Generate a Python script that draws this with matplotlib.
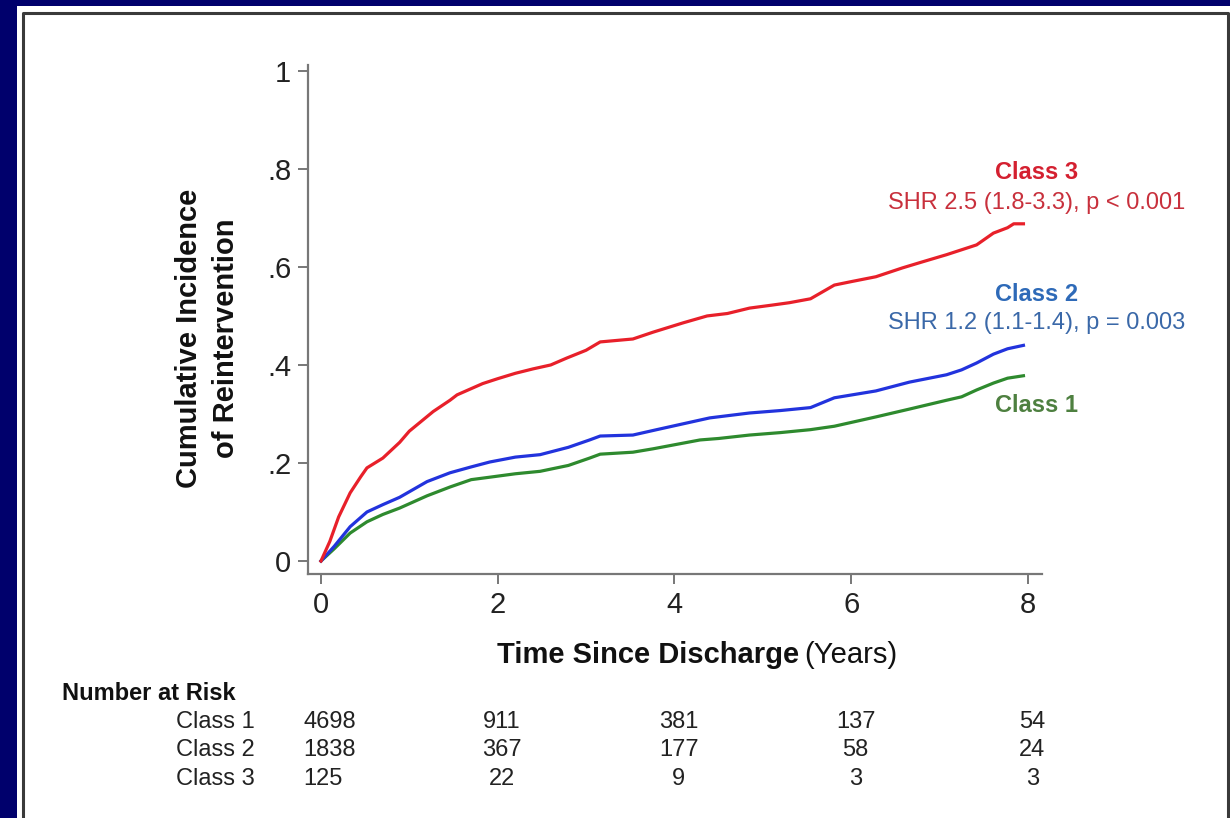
import matplotlib
matplotlib.use("Agg")
import matplotlib.pyplot as plt
from matplotlib.patches import Rectangle
from matplotlib.lines import Line2D
import matplotlib.transforms as mtransforms

plt.rcParams['font.family'] = ['Liberation Sans', 'DejaVu Sans']

# Cumulative incidence of reintervention by class (years since discharge)
t_class3 = [0, 0.1, 0.2, 0.33, 0.45, 0.52, 0.7, 0.89, 1.0, 1.27, 1.46, 1.54, 1.83, 2.0, 2.2,
            2.4, 2.6, 2.78, 3.0, 3.16, 3.53, 3.76, 4.1, 4.37, 4.6, 4.85, 5.1, 5.3, 5.54, 5.81,
            6.0, 6.28, 6.58, 6.8, 7.08, 7.25, 7.42, 7.61, 7.77, 7.84, 7.95]
ci_class3 = [0, 0.04, 0.09, 0.139, 0.172, 0.19, 0.21, 0.242, 0.265, 0.305, 0.328, 0.339, 0.362,
             0.372, 0.383, 0.392, 0.40, 0.414, 0.43, 0.447, 0.453, 0.467, 0.486, 0.50, 0.505,
             0.516, 0.522, 0.527, 0.535, 0.563, 0.57, 0.58, 0.598, 0.61, 0.625, 0.635, 0.645,
             0.669, 0.68, 0.688, 0.688]

t_class2 = [0, 0.15, 0.33, 0.52, 0.7, 0.89, 1.2, 1.46, 1.7, 1.91, 2.2, 2.48, 2.8, 3.04, 3.16,
            3.53, 3.8, 4.1, 4.4, 4.85, 5.2, 5.54, 5.81, 6.28, 6.66, 7.08, 7.25, 7.42, 7.61, 7.77,
            7.95]
ci_class2 = [0, 0.03, 0.07, 0.10, 0.115, 0.13, 0.162, 0.18, 0.192, 0.202, 0.212, 0.217, 0.232,
             0.247, 0.255, 0.257, 0.268, 0.28, 0.292, 0.302, 0.307, 0.313, 0.333, 0.347, 0.365,
             0.38, 0.39, 0.404, 0.422, 0.433, 0.44]

t_class1 = [0, 0.15, 0.33, 0.52, 0.7, 0.89, 1.2, 1.46, 1.7, 1.91, 2.2, 2.48, 2.8, 3.04, 3.16,
            3.53, 3.76, 4.29, 4.5, 4.85, 5.2, 5.54, 5.81, 6.28, 6.66, 7.08, 7.25, 7.42, 7.61,
            7.77, 7.95]
ci_class1 = [0, 0.025, 0.057, 0.08, 0.095, 0.108, 0.133, 0.151, 0.166, 0.171, 0.178, 0.183,
             0.195, 0.21, 0.218, 0.222, 0.229, 0.247, 0.25, 0.257, 0.262, 0.268, 0.275, 0.294,
             0.31, 0.328, 0.335, 0.349, 0.363, 0.373, 0.378]

x_ticks = [0, 2, 4, 6, 8]
y_ticks = [0, 0.2, 0.4, 0.6, 0.8, 1.0]
y_tick_labels = ["0", ".2", ".4", ".6", ".8", "1"]

risk_classes = ["Class 1", "Class 2", "Class 3"]
risk_times = [0, 2, 4, 6, 8]
risk_class1 = [4698, 911, 381, 137, 54]
risk_class2 = [1838, 367, 177, 58, 24]
risk_class3 = [125, 22, 9, 3, 3]

W, H = 1230, 818
fig = plt.figure(figsize=(W / 100, H / 100), dpi=100, facecolor="#00006C")


def fx(px):
    return px / W


def fy(py):
    return 1 - py / H


# white slide panel and its thin dark frame, kept beneath the axes
fig.patches.append(Rectangle((fx(17), 0), 1 - fx(17), fy(6), transform=fig.transFigure,
                             facecolor="white", edgecolor="none", zorder=-5))
fig.lines.append(Line2D([fx(23), fx(23), fx(1228), fx(1228)], [0, fy(13), fy(13), 0],
                        transform=fig.transFigure, color="#3a3a3a", lw=2.2, zorder=-4))

ax = fig.add_axes([fx(308), fy(574), fx(1042) - fx(308), fy(65) - fy(574)])
ax.set_facecolor("none")
ax.set_xlim(-0.147, 8.16)
ax.set_ylim(-0.0265, 1.012)

col3, col2, col1 = "#E8202A", "#2233DD", "#2E8A2E"
ax.plot(t_class1, ci_class1, color=col1, lw=2.3, zorder=3, solid_joinstyle="round")
ax.plot(t_class2, ci_class2, color=col2, lw=2.3, zorder=4, solid_joinstyle="round")
ax.plot(t_class3, ci_class3, color=col3, lw=2.3, zorder=5, solid_joinstyle="round")

for side in ("top", "right"):
    ax.spines[side].set_visible(False)
for side in ("left", "bottom"):
    ax.spines[side].set_color("#777777")
    ax.spines[side].set_linewidth(1.6)

ax.set_xticks(x_ticks)
ax.set_xticklabels([str(v) for v in x_ticks])
ax.set_yticks(y_ticks)
ax.set_yticklabels(y_tick_labels)
ax.tick_params(axis="both", direction="out", length=7, width=1.4, color="#777777",
               labelsize=21, labelcolor="#222222", pad=5)

# class annotations
lab_x = 8.1
ann_size = 17
ax.text(lab_x, 0.792, "Class 3", color="#D42030", fontsize=ann_size, fontweight="bold",
        ha="center", va="center", clip_on=False)
ax.text(lab_x, 0.731, "SHR 2.5 (1.8-3.3), p < 0.001", color="#C8303C", fontsize=ann_size,
        ha="center", va="center", clip_on=False)
ax.text(lab_x, 0.543, "Class 2", color="#2E6AB8", fontsize=ann_size, fontweight="bold",
        ha="center", va="center", clip_on=False)
ax.text(lab_x, 0.486, "SHR 1.2 (1.1-1.4), p = 0.003", color="#3A68A8", fontsize=ann_size,
        ha="center", va="center", clip_on=False)
ax.text(lab_x, 0.318, "Class 1", color="#4E8040", fontsize=ann_size, fontweight="bold",
        ha="center", va="center", clip_on=False)

# y-axis title (two lines)
fig.text(fx(189), fy(338), "Cumulative Incidence", rotation=90, fontsize=21,
         fontweight="bold", ha="center", va="center", color="#111111")
fig.text(fx(226), fy(338), "of Reintervention", rotation=90, fontsize=21,
         fontweight="bold", ha="center", va="center", color="#111111")

# x-axis title: bold part plus regular units
t1 = fig.text(fx(497), fy(655), "Time Since Discharge", fontsize=21, fontweight="bold",
              ha="left", va="center", color="#111111")
fig.canvas.draw()
bb = t1.get_window_extent()
fig.text(bb.x1 / W + 0.004, fy(655), "(Years)", fontsize=21, ha="left", va="center",
         color="#111111")

# number-at-risk table
tab_size = 17
fig.text(fx(62), fy(694), "Number at Risk", fontsize=tab_size, fontweight="bold",
         ha="left", va="center", color="#111111")
row_y = [722, 750, 779]
blend = mtransforms.blended_transform_factory(ax.transData, fig.transFigure)
for name, counts, ry in zip(risk_classes, [risk_class1, risk_class2, risk_class3], row_y):
    fig.text(fx(255), fy(ry), name, fontsize=tab_size, ha="right", va="center",
             color="#222222")
    for i, (tt, n) in enumerate(zip(risk_times, counts)):
        if i == 0:
            ax.text(tt - 0.2, fy(ry), str(n), transform=blend, fontsize=tab_size, ha="left",
                    va="center", color="#222222", clip_on=False)
        else:
            ax.text(tt + 0.05, fy(ry), str(n), transform=blend, fontsize=tab_size,
                    ha="center", va="center", color="#222222", clip_on=False)

fig.savefig("out.png", dpi=100, facecolor=fig.get_facecolor())
